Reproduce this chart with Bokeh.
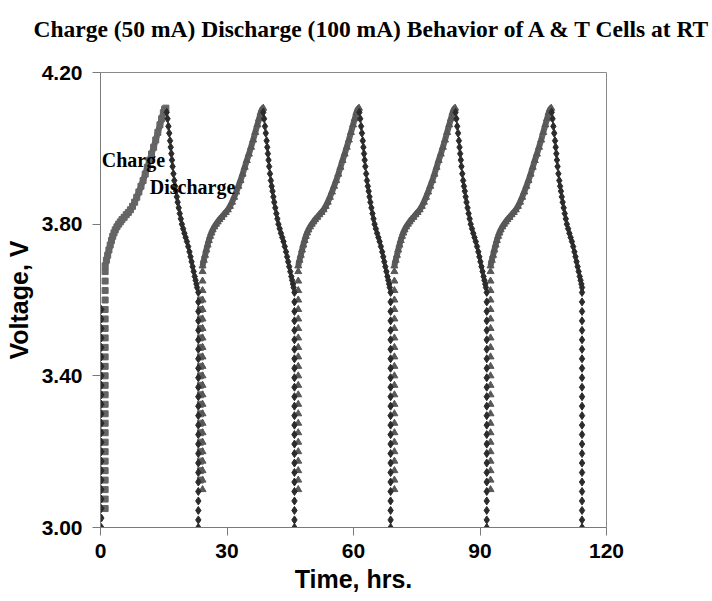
import math
from bokeh.plotting import figure
from bokeh.models import Range1d, Label, PrintfTickFormatter
from bokeh.embed import file_html
from bokeh.resources import INLINE

# ---------------- data ----------------
title_text = "Charge (50 mA) Discharge (100 mA) Behavior of A & T Cells at RT"
x_label = "Time, hrs."
y_label = "Voltage, V"
x_ticks = [0, 30, 60, 90, 120]
y_ticks = [3.00, 3.40, 3.80, 4.20]

# cycle timing (hrs)
charge_start = [1.1, 24.2, 46.9, 69.7, 92.5]        # vertical charge columns
discharge_start = [15.5, 38.4, 61.2, 84.0, 106.8]   # peaks, start of discharge
cutoff_t = [23.2, 46.0, 68.8, 91.6, 114.2]          # vertical discharge columns
first_col_t = 0.2                                   # discharge column at t=0
square_col_t = 23.7                                 # square column at end of cycle 1

# charge curve: hours after charge column, voltage
charge_dt = [0.0, 0.3, 0.6, 0.9, 1.2, 1.5, 1.8, 2.1, 2.4, 2.8, 3.2, 3.6, 4.0,
             4.5, 5.0, 5.5, 6.0, 6.5, 7.0, 7.5, 8.0, 8.5, 9.0, 9.5, 10.0,
             10.5, 11.0, 11.5, 12.0, 12.5, 13.0, 13.4, 13.8, 14.1, 14.4]
charge_v = [3.690, 3.705, 3.718, 3.732, 3.745, 3.757, 3.768, 3.777, 3.785,
            3.793, 3.800, 3.806, 3.812, 3.818, 3.825, 3.831, 3.838, 3.847,
            3.858, 3.871, 3.885, 3.900, 3.915, 3.932, 3.950, 3.968, 3.985,
            4.003, 4.022, 4.042, 4.062, 4.078, 4.094, 4.103, 4.106]

# discharge curve: hours after peak, voltage
discharge_dt = [0.2, 0.4, 0.6, 0.8, 1.0, 1.15, 1.3, 1.45, 1.6, 1.8, 2.0, 2.2,
                2.4, 2.6, 2.8, 3.05, 3.3, 3.55, 3.8, 4.1, 4.4, 4.7, 5.0, 5.3,
                5.6, 5.85, 6.1, 6.35, 6.6, 6.85, 7.05, 7.25, 7.4]
discharge_v = [4.095, 4.078, 4.058, 4.040, 4.020, 4.003, 3.986, 3.969, 3.952,
               3.933, 3.915, 3.900, 3.887, 3.872, 3.858, 3.843, 3.828, 3.814,
               3.800, 3.788, 3.776, 3.765, 3.754, 3.741, 3.727, 3.714, 3.701,
               3.688, 3.675, 3.662, 3.652, 3.642, 3.633]

# vertical columns
cutoff_v = [3.620, 3.595, 3.570, 3.545, 3.520, 3.495, 3.470, 3.445, 3.420,
            3.395, 3.370, 3.345, 3.320, 3.295, 3.270, 3.245, 3.220, 3.195,
            3.170, 3.145, 3.120, 3.095, 3.070, 3.045, 3.020, 3.000]
first_col_v = [3.575, 3.550, 3.525, 3.500, 3.475, 3.450, 3.425, 3.400, 3.375,
               3.350, 3.325, 3.300, 3.275, 3.250, 3.225, 3.200, 3.175, 3.150,
               3.125, 3.100, 3.075, 3.050, 3.025, 3.000]
charge_col_v = [3.100, 3.125, 3.150, 3.175, 3.200, 3.225, 3.250, 3.275, 3.300,
                3.325, 3.350, 3.375, 3.400, 3.425, 3.450, 3.475, 3.500, 3.525,
                3.550, 3.575, 3.600, 3.625, 3.650, 3.675]
first_charge_col_v = [3.050, 3.075] + charge_col_v
square_col_v = [3.125, 3.150, 3.175, 3.200, 3.225, 3.250, 3.275, 3.300, 3.325,
                3.350, 3.375, 3.400, 3.425, 3.450, 3.475, 3.500, 3.525, 3.550,
                3.575, 3.600]

# ---------------- assemble series ----------------
CHG1 = "#656565"
CHG = "#585858"
DIS = "#2b2b2b"

sq_x, sq_y = [], []
tri_x, tri_y = [], []
dia_x, dia_y = [], []
band_x, band_y = [], []

# cycle 1 charge (squares)
sq_x += [charge_start[0]] * len(first_charge_col_v)
sq_y += first_charge_col_v
sq_x += [charge_start[0] + d for d in charge_dt]
sq_y += list(charge_v)
sq_x += [square_col_t] * len(square_col_v)
sq_y += square_col_v

# cycles 2..5 charge (triangles)
for t0 in charge_start[1:]:
    tri_x += [t0] * len(charge_col_v)
    tri_y += charge_col_v
    tri_x += [t0 + d for d in charge_dt]
    tri_y += list(charge_v)

for t0 in charge_start:
    band_x += [t0 + d for d in charge_dt] + [math.nan]
    band_y += list(charge_v) + [math.nan]

# discharge (diamonds)
dia_x += [first_col_t] * len(first_col_v)
dia_y += first_col_v
for tp, tc in zip(discharge_start, cutoff_t):
    dia_x += [tp + d for d in discharge_dt]
    dia_y += list(discharge_v)
    dia_x += [tc] * len(cutoff_v)
    dia_y += cutoff_v

# ---------------- figure ----------------
p = figure(width=712, height=601, output_backend="svg", toolbar_location=None,
           x_range=Range1d(0, 120), y_range=Range1d(3.0, 4.2),
           min_border_left=100, min_border_right=106,
           min_border_top=72, min_border_bottom=74)
p.background_fill_color = "white"
p.border_fill_color = "white"
p.outline_line_color = "#8a8a8a"
p.outline_line_width = 1
p.xgrid.visible = False
p.ygrid.visible = False

# title: a blank second line keeps the first line near the top of the page
p.title.text = title_text + "\n "
p.title.text_font = "Liberation Serif"
p.title.text_font_style = "bold"
p.title.text_font_size = "23.5px"
p.title.text_color = "black"
p.title.align = "left"
p.title.offset = -67
p.title.vertical_align = "top"
p.title.standoff = 6

for ax in (p.xaxis[0], p.yaxis[0]):
    ax.axis_line_color = "#7a7a7a"
    ax.major_tick_line_color = "#7a7a7a"
    ax.major_tick_out = 8
    ax.major_tick_in = 0
    ax.minor_tick_line_color = None
    ax.major_label_text_font = "Liberation Sans"
    ax.major_label_text_font_style = "bold"
    ax.major_label_text_font_size = "21px"
    ax.major_label_text_color = "black"
    ax.axis_label_text_font = "Liberation Sans"
    ax.axis_label_text_font_style = "bold"
    ax.axis_label_text_font_size = "25px"
    ax.axis_label_text_color = "black"

p.xaxis.ticker = x_ticks
p.yaxis.ticker = y_ticks
p.yaxis.formatter = PrintfTickFormatter(format="%.2f")
p.xaxis.axis_label = x_label
p.yaxis.axis_label = y_label
p.xaxis.major_label_standoff = 8
p.yaxis.major_label_standoff = 10
p.xaxis.axis_label_standoff = 4
p.yaxis.axis_label_standoff = 6

p.line(band_x, band_y, line_color=CHG, line_width=6, line_alpha=0.95)
p.scatter(sq_x, sq_y, marker="square", size=6, fill_color=CHG1,
          line_color=CHG1)
p.scatter(tri_x, tri_y, marker="triangle", size=7, fill_color=CHG,
          line_color=CHG)
p.scatter(dia_x, dia_y, marker="diamond", size=8, fill_color=DIS,
          line_color=DIS)

p.add_layout(Label(x=0.3, y=3.968, text="Charge", text_font="Liberation Serif",
                   text_font_style="bold", text_font_size="20px",
                   text_color="black", text_baseline="alphabetic"))
p.add_layout(Label(x=11.7, y=3.897, text="Discharge",
                   text_font="Liberation Serif", text_font_style="bold",
                   text_font_size="20px", text_color="black",
                   text_baseline="alphabetic"))

open("out.html", "w").write(file_html(p, INLINE))
